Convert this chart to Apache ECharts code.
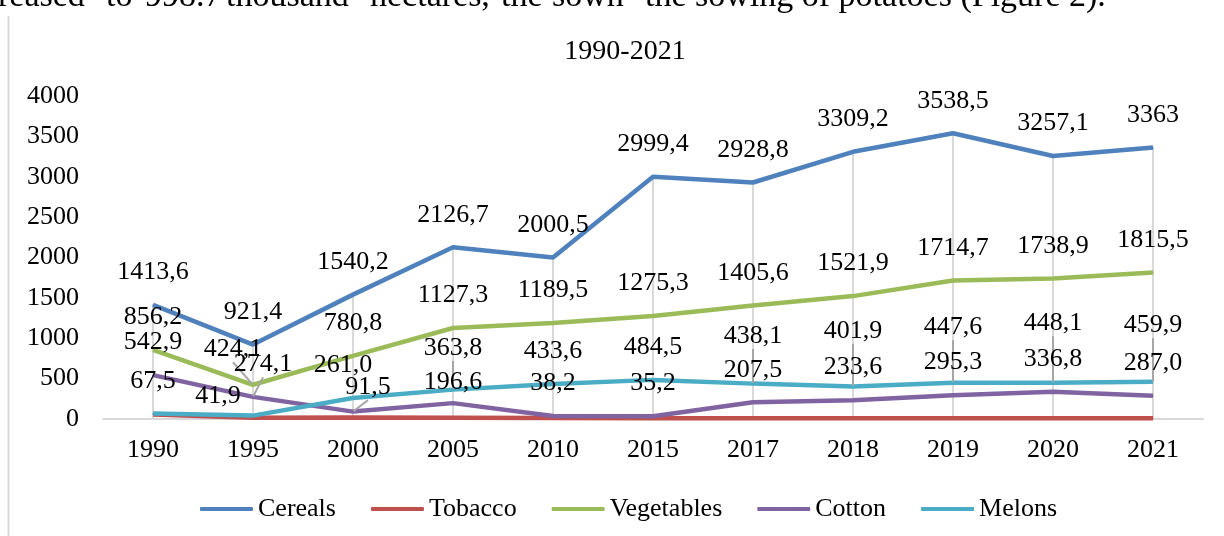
<!DOCTYPE html>
<html>
<head>
<meta charset="utf-8">
<script src="https://cdn.jsdelivr.net/npm/echarts@6/dist/echarts.min.js"></script>
<style>
  html, body { margin: 0; padding: 0; background: #fff; }
  #main { width: 1224px; height: 536px; }
</style>
</head>
<body>
<div id="main"></div>
<script>
const years = ['1990', '1995', '2000', '2005', '2010', '2015', '2017', '2018', '2019', '2020', '2021']
const cereals = [1413.6, 921.4, 1540.2, 2126.7, 2000.5, 2999.4, 2928.8, 3309.2, 3538.5, 3257.1, 3363]
const tobacco = [55, 15, 18, 15, 12, 10, 9, 8, 8, 8, 8]
const vegetables = [856.2, 424.1, 780.8, 1127.3, 1189.5, 1275.3, 1405.6, 1521.9, 1714.7, 1738.9, 1815.5]
const cotton = [542.9, 274.1, 91.5, 196.6, 38.2, 35.2, 207.5, 233.6, 295.3, 336.8, 287.0]
const melons = [67.5, 41.9, 261.0, 363.8, 433.6, 484.5, 438.1, 401.9, 447.6, 448.1, 459.9]

// label nudges (px) where the labels were moved apart in the original
const vegShiftX = [0, -20, 0, 0, 0, 0, 0, 0, 0, 0, 0]
const vegShiftY = [0, -3, 0, 0, 0, 0, 0, 0, 0, 0, 0]
const cottonShiftX = [0, 10, 15, 0, 0, 0, 0, 0, 0, 0, 0]
const cottonShiftY = [0, 0, 8, 12, 0, 0, 0, 0, 0, 0, 0]
const melonShiftX = [0, -35, -10, 0, 0, 0, 0, 0, 0, 0, 0]
const melonShiftY = [0, 13, 0, -9, 0, 0, -15, -23, -23, -27, -24]

// cut-off line of body text above the figure
const topWords = ['reased', 'to', '998.7', 'thousand', 'hectares,', 'the', 'sown', 'the sowing of potatoes (Figure 2).']
const topWordX = [-2, 106, 145, 226, 370, 501, 552, 645]

const font = 'Liberation Serif'

var myChart = echarts.init(document.getElementById('main'))

function lineSeries(name, data, color, fmt, sx, sy) {
  var s = {
    name: name,
    type: 'line',
    data: data.map(function (v, i) {
      // leader line only for labels lifted up, or pushed sideways (not melons)
      var moved = !!(sx && (sy[i] < 0 || (sx[i] !== 0 && name !== 'Melons')))
      return { value: v, labelLine: { show: moved } }
    }),
    symbol: 'circle',
    symbolSize: 1,
    lineStyle: { color: color, width: 4.5 },
    itemStyle: { color: color },
    label: {
      show: !!fmt,
      position: 'top',
      distance: 19,
      color: '#000',
      fontFamily: font,
      fontSize: 26,
      formatter: function (p) { return fmt(p.value) }
    },
    labelLine: { lineStyle: { color: '#a6a6a6', width: 2 } },
    emphasis: { disabled: true },
    z: 3
  }
  if (sx) {
    s.labelLayout = function (p) { return { dx: sx[p.dataIndex], dy: sy[p.dataIndex] } }
  }
  return s
}

function comma1(v) { return v.toFixed(1).replace('.', ',') }
function commaRaw(v) { return String(v).replace('.', ',') }

var graphics = [
  {
    type: 'line',
    shape: { x1: 8.5, y1: 16, x2: 8.5, y2: 536 },
    style: { stroke: '#d9d9d9', lineWidth: 2 }
  }
]
topWords.forEach(function (w, i) {
  graphics.push({
    type: 'text',
    left: topWordX[i],
    top: -20,
    style: { text: w, fontFamily: font, fontSize: 34, fill: '#000' }
  })
})

var option = {
  animation: false,
  title: {
    text: '1990-2021',
    left: 620,
    textAlign: 'center',
    top: 33,
    textStyle: { fontFamily: font, fontSize: 28, fontWeight: 'normal', color: '#000' }
  },
  legend: {
    data: ['Cereals', 'Tobacco', 'Vegetables', 'Cotton', 'Melons'],
    left: 195,
    top: 491,
    icon: 'roundRect',
    itemWidth: 53,
    itemHeight: 4,
    itemGap: 35,
    textStyle: { fontFamily: font, fontSize: 26, color: '#000' }
  },
  grid: { left: 103, right: 21, top: 96, bottom: 117 },
  xAxis: {
    type: 'category',
    data: years,
    axisLine: { lineStyle: { color: '#d9d9d9', width: 2 } },
    axisTick: { length: 6, lineStyle: { color: '#d9d9d9', width: 2 } },
    axisLabel: { margin: 18, color: '#000', fontFamily: font, fontSize: 26 }
  },
  yAxis: {
    type: 'value',
    min: 0,
    max: 4000,
    interval: 500,
    axisLine: { show: false },
    axisTick: { show: false },
    splitLine: { show: false },
    axisLabel: {
      margin: 24,
      color: '#000',
      fontFamily: font,
      fontSize: 26,
      formatter: function (v) { return String(v) }
    }
  },
  graphic: graphics,
  series: [
    {
      name: 'drop',
      type: 'bar',
      data: cereals,
      barWidth: 2,
      itemStyle: { color: '#d9d9d9' },
      silent: true,
      z: 1
    },
    lineSeries('Cereals', cereals, '#4f81bd', commaRaw),
    lineSeries('Tobacco', tobacco, '#c0504d', null),
    lineSeries('Vegetables', vegetables, '#9bbb59', comma1, vegShiftX, vegShiftY),
    lineSeries('Cotton', cotton, '#8064a2', comma1, cottonShiftX, cottonShiftY),
    lineSeries('Melons', melons, '#4bacc6', comma1, melonShiftX, melonShiftY)
  ]
}

option && myChart.setOption(option)
</script>
</body>
</html>
